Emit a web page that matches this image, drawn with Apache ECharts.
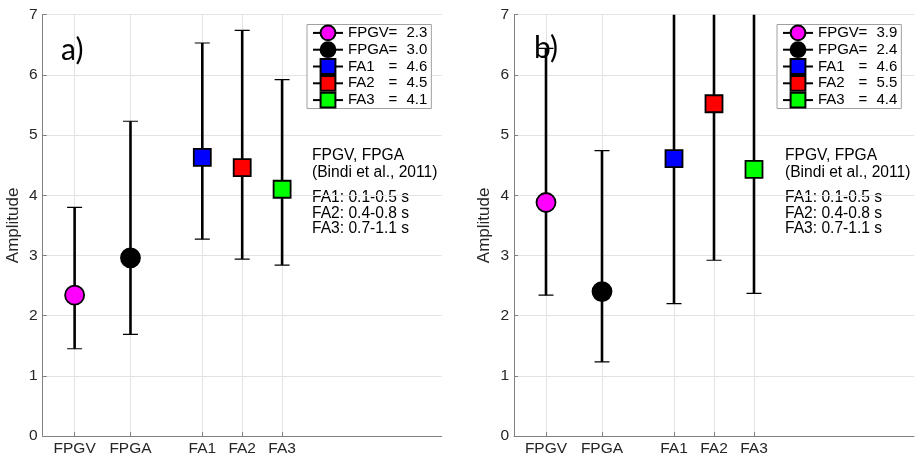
<!DOCTYPE html>
<html>
<head>
<meta charset="utf-8">
<script src="https://cdn.jsdelivr.net/npm/echarts@6/dist/echarts.min.js"></script>
<style>
  html, body { margin: 0; padding: 0; background: #fff; }
  #chart { width: 916px; height: 457px; }
</style>
</head>
<body>
<div id="chart"></div>
<script>
// Amplitude estimates with error bars for two panels
const categories = ['FPGV', 'FPGA', 'FA1', 'FA2', 'FA3'];
const catPos = [0.8, 2.2, 4, 5, 6];            // x value of each category on the axis
const yTicks = [0, 1, 2, 3, 4, 5, 6, 7];

// panel a)
const meanA = [2.34, 2.96, 4.63, 4.46, 4.10];
const lowA  = [1.45, 1.69, 3.27, 2.94, 2.84];
const highA = [3.80, 5.23, 6.53, 6.74, 5.92];

// panel b)
const meanB = [3.88, 2.40, 4.61, 5.52, 4.43];
const lowB  = [2.34, 1.23, 2.20, 2.92, 2.37];
const highB = [6.44, 4.74, 9.66, 10.4, 8.28];

const panelLabels = ['a)', 'b)'];
const noteTop = ['FPGV, FPGA', '(Bindi et al., 2011)'];
const noteBottom = ['FA1: 0.1-0.5 s', 'FA2: 0.4-0.8 s', 'FA3: 0.7-1.1 s'];

const markerColors = ['#ff00ff', '#000000', '#0000ff', '#ff0000', '#00ff00'];
const markerShapes = ['circle', 'circle', 'rect', 'rect', 'rect'];
const markerSizes = [19, 19, 17, 17, 17];

const FONT = '"Liberation Sans", Arial, Helvetica, sans-serif';
const AXIS_COLOR = '#808080';
const LABEL_COLOR = '#262626';
const GRID_COLOR = '#e3e3e3';

const grids = [
  { left: 42.7, right: 474.3, top: 14.7, bottom: 20.5 },
  { left: 514, right: 2, top: 14.7, bottom: 20.5 }
];

function xAxisFor(i) {
  return {
    type: 'value', gridIndex: i, min: 0, max: 10,
    axisLine: { show: true, lineStyle: { color: AXIS_COLOR, width: 1 } },
    axisTick: { show: true, inside: true, length: 4, customValues: catPos,
                lineStyle: { color: AXIS_COLOR } },
    axisLabel: {
      customValues: catPos,
      formatter: v => categories[catPos.indexOf(v)] || '',
      color: LABEL_COLOR, fontSize: 15.5, fontFamily: FONT, margin: 5
    },
    splitLine: { show: true, lineStyle: { color: GRID_COLOR, width: 1 } }
  };
}

function yAxisFor(i) {
  return {
    type: 'value', gridIndex: i, min: yTicks[0], max: yTicks[yTicks.length - 1], interval: 1,
    name: 'Amplitude', nameLocation: 'middle', nameGap: 21,
    nameTextStyle: { color: LABEL_COLOR, fontSize: 17, fontFamily: FONT },
    axisLine: { show: true, lineStyle: { color: AXIS_COLOR, width: 1 } },
    axisTick: { show: true, inside: true, length: 4, lineStyle: { color: AXIS_COLOR } },
    axisLabel: { color: LABEL_COLOR, fontSize: 15.5, fontFamily: FONT, margin: 5 },
    splitLine: { show: true, lineStyle: { color: GRID_COLOR, width: 1 } }
  };
}

function errorBarSeries(i, low, high) {
  return {
    type: 'custom', xAxisIndex: i, yAxisIndex: i, clip: true, z: 2, silent: true,
    data: catPos.map((x, k) => [x, low[k], high[k]]),
    renderItem(params, api) {
      const x = api.value(0);
      const pLo = api.coord([x, api.value(1)]);
      const pHi = api.coord([x, api.value(2)]);
      const half = 7.5;
      return {
        type: 'group',
        children: [
          { type: 'line', shape: { x1: pLo[0], y1: pLo[1], x2: pHi[0], y2: pHi[1] },
            style: { stroke: '#000', lineWidth: 2.6 } },
          { type: 'line', shape: { x1: pLo[0] - half, y1: pLo[1], x2: pLo[0] + half, y2: pLo[1] },
            style: { stroke: '#000', lineWidth: 1.2 } },
          { type: 'line', shape: { x1: pHi[0] - half, y1: pHi[1], x2: pHi[0] + half, y2: pHi[1] },
            style: { stroke: '#000', lineWidth: 1.2 } }
        ]
      };
    }
  };
}

function markerSeries(i, mean) {
  return categories.map((name, k) => ({
    type: 'line', name: name, xAxisIndex: i, yAxisIndex: i, z: 3,
    data: [[catPos[k], mean[k]]],
    symbol: markerShapes[k], symbolSize: markerSizes[k],
    lineStyle: { color: '#000', width: 2 },
    itemStyle: { color: markerColors[k], borderColor: '#000', borderWidth: 1.8, opacity: 1 },
    emphasis: { disabled: true }
  }));
}

function legendFor(left, mean) {
  return {
    orient: 'vertical', left: left, top: 24.5,
    data: categories,
    selectedMode: false,
    padding: [0, 4, 0, 5],
    itemWidth: 30, itemHeight: 18.5, itemGap: 0,
    backgroundColor: '#fff', borderColor: '#a0a0a0', borderWidth: 1, borderRadius: 0,
    formatter: name => `{n|${name}}{e|=}{v|${mean[categories.indexOf(name)].toFixed(1)}}`,
    textStyle: {
      color: '#000', fontSize: 15, fontFamily: FONT,
      rich: {
        n: { width: 40.5, fontSize: 15, fontFamily: FONT, color: '#000' },
        e: { width: 18, fontSize: 15, fontFamily: FONT, color: '#000' },
        v: { fontSize: 15, fontFamily: FONT, color: '#000' }
      }
    }
  };
}

function notes(x) {
  return [
    { type: 'text', x: x, y: 147.5, silent: true,
      style: { text: noteTop.join('\n'), font: '15.6px ' + FONT, fill: '#000', lineHeight: 17 } },
    { type: 'text', x: x, y: 189.5, silent: true,
      style: { text: noteBottom.join('\n'), font: '15.6px ' + FONT, fill: '#000', lineHeight: 15.8 } }
  ];
}

const chart = echarts.init(document.getElementById('chart'), null, { renderer: 'canvas' });
chart.setOption({
  animation: false,
  backgroundColor: '#fff',
  grid: grids,
  xAxis: [xAxisFor(0), xAxisFor(1)],
  yAxis: [yAxisFor(0), yAxisFor(1)],
  legend: [legendFor(307, meanA), legendFor(777, meanB)],
  series: [
    errorBarSeries(0, lowA, highA),
    errorBarSeries(1, lowB, highB),
    ...markerSeries(0, meanA),
    ...markerSeries(1, meanB)
  ],
  graphic: [
    { type: 'text', x: 61, y: 35, z: 1, silent: true,
      style: { text: panelLabels[0], font: '30px Lato, sans-serif', fill: '#000' } },
    { type: 'text', x: 534, y: 33, z: 1, silent: true,
      style: { text: panelLabels[1], font: '30px Lato, sans-serif', fill: '#000' } },
    ...notes(312),
    ...notes(785)
  ]
});
</script>
</body>
</html>
